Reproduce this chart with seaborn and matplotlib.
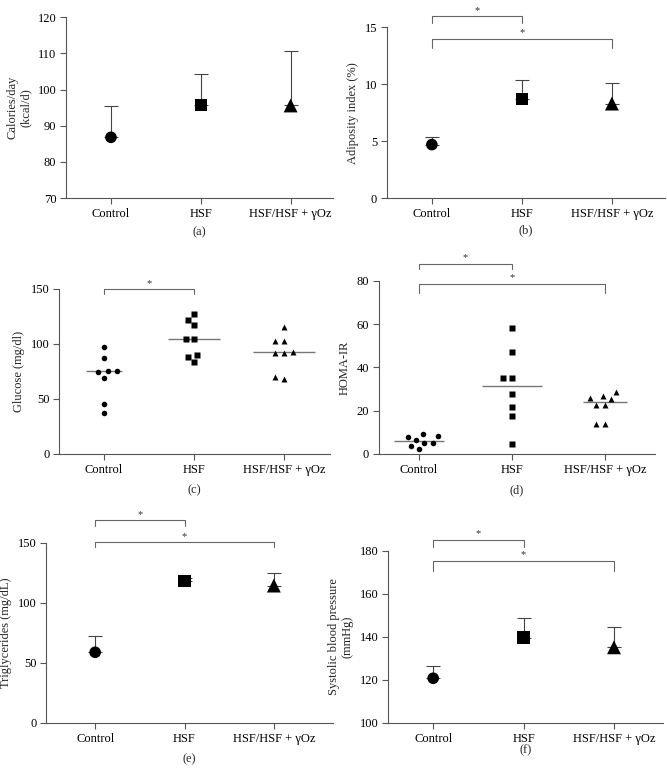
import numpy as np
import pandas as pd
import matplotlib
matplotlib.use("Agg")
import matplotlib.pyplot as plt
import seaborn as sns

# ------ DATA ------ #

groups = ["Control", "HSF", "HSF/HSF + γOz"]
markers = ["o", "s", "^"]

# (a) calories/day: mean and upper error end
cal_mean = [86.8, 95.7, 95.6]
cal_top = [95.4, 104.4, 110.6]

# (b) adiposity index (%)
adip_mean = [4.7, 8.7, 8.3]
adip_top = [5.4, 10.4, 10.1]

# (c) glucose (mg/dl), individual animals
glu_control = [97.3, 87.0, 75.8, 69.4, 74.2, 75.8, 45.8, 37.3]
glu_hsf = [127.6, 122.0, 117.0, 104.8, 104.8, 90.0, 88.2, 83.3]
glu_oz = [115.8, 102.7, 102.7, 92.0, 92.0, 92.7, 68.5, 70.0]

# (d) HOMA-IR, individual animals
homa_control = [9.0, 7.8, 5.1, 6.6, 8.1, 5.1, 3.7, 2.2]
homa_hsf = [58.2, 47.0, 35.0, 35.0, 27.6, 21.8, 17.5, 4.5]
homa_oz = [28.6, 26.9, 25.7, 25.3, 22.6, 22.6, 14.0, 14.0]

# (e) triglycerides (mg/dL)
tg_mean = [58.9, 118.0, 114.5]
tg_top = [72.2, 121.0, 125.3]

# (f) systolic blood pressure (mmHg)
sbp_mean = [120.8, 139.7, 135.2]
sbp_top = [126.7, 148.9, 144.5]

# ------ STYLE ------ #

sns.set_style("ticks")
plt.rcParams["font.family"] = ["Liberation Serif", "DejaVu Serif"]
plt.rcParams["font.size"] = 9

AX_COL = "#555555"
ERR_COL = "#444444"
FS = 9

fig = plt.figure(figsize=(6.67, 7.8), dpi=100)


def make_ax(rect, xlim, ylim, yticks, ylabel, panel, label_y):
    ax = fig.add_axes(rect)
    ax.set_xlim(*xlim)
    ax.set_ylim(*ylim)
    ax.set_yticks(yticks)
    ax.set_xticks(range(len(groups)))
    ax.set_xticklabels(groups)
    sns.despine(ax=ax)
    for s in ["left", "bottom"]:
        ax.spines[s].set_color(AX_COL)
        ax.spines[s].set_linewidth(0.8)
    ax.tick_params(colors=AX_COL, labelcolor="black", length=4, width=0.8,
                   labelsize=FS, pad=3)
    ax.text(0.5, label_y, panel, transform=ax.transAxes, ha="center",
            va="center", fontsize=FS)
    return ax


def finish(ax, xlim, ylim, ylabel):
    ax.set_xlim(*xlim)
    ax.set_ylim(*ylim)
    ax.set_xlabel("")
    ax.set_ylabel(ylabel, fontsize=FS)


def mean_panel(ax, means, tops):
    lows = [0] * len(means)
    ups = [t - m for t, m in zip(tops, means)]
    ax.errorbar(range(len(groups)), means, yerr=[lows, ups], fmt="none",
                ecolor=ERR_COL, elinewidth=0.8, capsize=5, capthick=0.8,
                zorder=1)
    df = pd.DataFrame({"group": groups, "value": means})
    sns.scatterplot(data=df, x="group", y="value", style="group",
                    markers=dict(zip(groups, markers)),
                    size="group", sizes=dict(zip(groups, [70, 78, 100])),
                    color="black", edgecolor="black", linewidth=0,
                    legend=False, ax=ax, zorder=3)


def dot_panel(ax, values, widths):
    df = pd.DataFrame({
        "group": np.repeat(groups, [len(v) for v in values]),
        "value": np.concatenate(values),
    })
    df["group"] = pd.Categorical(df["group"], categories=groups)
    for g, m in zip(groups, markers):
        sub = df[df["group"] == g]
        # transparent edge widens the swarm spacing beyond the marker
        sns.swarmplot(data=sub, x="group", y="value", order=groups,
                      marker=m, color="black", size=4.3 if m == "^" else 4.0,
                      linewidth=1.8, edgecolor=(0, 0, 0, 0), ax=ax, zorder=3)
    med = df.groupby("group", observed=False)["value"].median()
    for i, g in enumerate(groups):
        ax.hlines(med[g], i - widths[i] / 2, i + widths[i] / 2,
                  color="#777777", lw=1.0, zorder=2)


def bracket(ax, i, j, y, drop):
    ax.plot([i, i, j, j], [y - drop, y, y, y - drop], color="#666666",
            lw=0.8, clip_on=False, zorder=4)
    ax.text((i + j) / 2, y + drop * 0.25, "*", ha="center", va="bottom",
            fontsize=7.5, color="#333333", clip_on=False)


# (a)
ax_a = make_ax([0.099, 0.746, 0.40, 0.232], (-0.5, 2.47), (70, 120),
               range(70, 121, 10), "", "(a)", -0.19)
mean_panel(ax_a, cal_mean, cal_top)
finish(ax_a, (-0.5, 2.47), (70, 120), "Calories/day\n(kcal/d)")

# (b)
ax_b = make_ax([0.580, 0.746, 0.417, 0.219], (-0.5, 2.59), (0, 15),
               [0, 5, 10, 15], "", "(b)", -0.19)
mean_panel(ax_b, adip_mean, adip_top)
finish(ax_b, (-0.5, 2.59), (0, 15), "Adiposity index (%)")
bracket(ax_b, 0, 1, 15.95, 0.55)
bracket(ax_b, 0, 2, 13.95, 0.75)

# (c)
ax_c = make_ax([0.0885, 0.418, 0.406, 0.2115], (-0.5, 2.51), (0, 150),
               [0, 50, 100, 150], "", "(c)", -0.22)
dot_panel(ax_c, [glu_control, glu_hsf, glu_oz], [0.41, 0.58, 0.68])
finish(ax_c, (-0.5, 2.51), (0, 150), "Glucose (mg/dl)")
bracket(ax_c, 0, 1, 150, 5)

# (d)
ax_d = make_ax([0.568, 0.418, 0.414, 0.2218], (-0.43, 2.54), (0, 80),
               range(0, 81, 20), "", "(d)", -0.21)
dot_panel(ax_d, [homa_control, homa_hsf, homa_oz], [0.54, 0.65, 0.47])
finish(ax_d, (-0.43, 2.54), (0, 80), "HOMA-IR")
bracket(ax_d, 0, 1, 87.9, 2.4)
bracket(ax_d, 0, 2, 78.6, 4.1)

# (e)
ax_e = make_ax([0.069, 0.0731, 0.430, 0.2308], (-0.55, 2.66), (0, 150),
               [0, 50, 100, 150], "", "(e)", -0.2)
mean_panel(ax_e, tg_mean, tg_top)
finish(ax_e, (-0.55, 2.66), (0, 150), "Triglycerides (mg/dL)")
bracket(ax_e, 0, 1, 169, 5)
bracket(ax_e, 0, 2, 150.5, 3.5)

# (f)
ax_f = make_ax([0.5817, 0.0731, 0.412, 0.2205], (-0.5, 2.54), (100, 180),
               range(100, 181, 20), "", "(f)", -0.16)
mean_panel(ax_f, sbp_mean, sbp_top)
finish(ax_f, (-0.5, 2.54), (100, 180), "Systolic blood pressure\n(mmHg)")
bracket(ax_f, 0, 1, 185.1, 3.1)
bracket(ax_f, 0, 2, 175.2, 4.5)

for ax in fig.axes:
    ax.set_xticks(range(len(groups)))
    ax.set_xticklabels(groups)

fig.savefig("out.png", dpi=100)
